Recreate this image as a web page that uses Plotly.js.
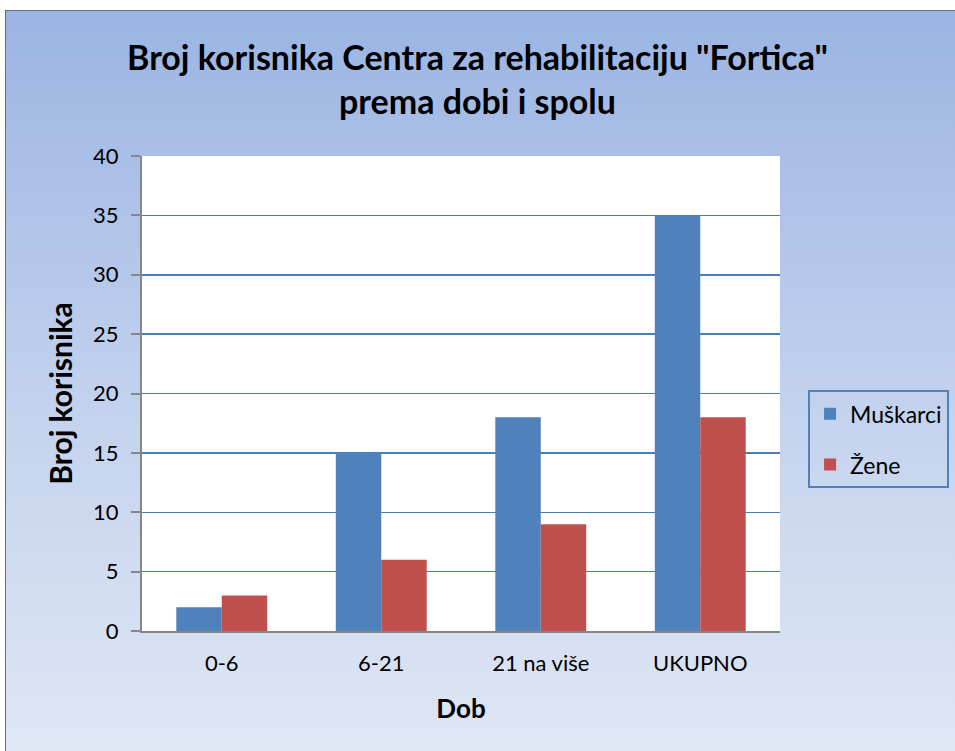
<!DOCTYPE html>
<html>
<head>
<meta charset="utf-8">
<script src="https://cdn.plot.ly/plotly-3.0.1.min.js"></script>
<style>
html,body{margin:0;padding:0;background:#ffffff;width:955px;height:751px;overflow:hidden;}
#frame{position:absolute;left:5px;top:10px;width:955px;height:745px;
 background:linear-gradient(to bottom,#9bb4e3 0%,#c4d3ee 55%,#e0e7f5 100%);
 border-left:1px solid #5f6f86;border-top:1px solid #5f6f86;}
#chart{position:absolute;left:0;top:0;width:955px;height:751px;}
</style>
</head>
<body>
<div id="frame"></div>
<div id="chart"></div>
<script>
const categories = ["0-6", "6-21", "21 na više", "UKUPNO"];
const muskarci = [2, 15, 18, 35];
const zene = [3, 6, 9, 18];
const seriesNames = ["Muškarci", "Žene"];
const yTicks = [0, 5, 10, 15, 20, 25, 30, 35, 40];

const FONT = "Lato, 'Open Sans', sans-serif";

const traces = [
  {type:"bar", name:seriesNames[0], x:categories, y:muskarci, marker:{color:"#4f81bd"}, legendgroup:"a"},
  {type:"bar", name:seriesNames[1], x:categories, y:zene, marker:{color:"#c0504d"}, legendgroup:"b"}
];

const layout = {
  width:955, height:751,
  paper_bgcolor:"rgba(0,0,0,0)",
  plot_bgcolor:"#ffffff",
  margin:{l:142, r:175, t:156, b:120, autoexpand:false},
  font:{family:FONT, color:"#000000", size:22},
  title:{text:"<b>Broj korisnika Centra za rehabilitaciju \"Fortica\"<br>prema dobi i spolu</b>",
         font:{family:FONT, size:34, color:"#000"}, x:0.5, xanchor:"center", y:0.907, yanchor:"middle", yref:"container"},
  barmode:"group",
  bargap:0.43,
  bargroupgap:0,
  xaxis:{
    title:{text:"<b>Dob</b>", font:{family:FONT, size:26}, standoff:24},
    showline:true, linecolor:"#868686", linewidth:2,
    ticks:"", tickfont:{family:FONT, size:22}, ticklabelstandoff:12, showgrid:false, fixedrange:true
  },
  yaxis:{
    title:{text:"<b>Broj korisnika</b>", font:{family:FONT, size:30}, standoff:12},
    range:[0,40], tickvals:yTicks, ticktext:yTicks.map(String),
    showline:true, linecolor:"#868686", linewidth:2,
    ticks:"outside", ticklen:9, tickcolor:"#868686", tickwidth:2,
    tickfont:{family:FONT, size:22}, ticklabelstandoff:8,
    showgrid:true, gridcolor:"#4a7ebb", gridwidth:1.5,
    zeroline:false, fixedrange:true
  },
  legend:{
    x:1.044, xanchor:"left", y:0.507, yanchor:"top",
    bgcolor:"rgba(0,0,0,0)", bordercolor:"#4f81bd", borderwidth:2,
    font:{family:FONT, size:23}, tracegroupgap:18, itemwidth:30
  },
  showlegend:true
};

Plotly.newPlot("chart", traces, layout, {displayModeBar:false, staticPlot:true});
</script>
</body>
</html>
